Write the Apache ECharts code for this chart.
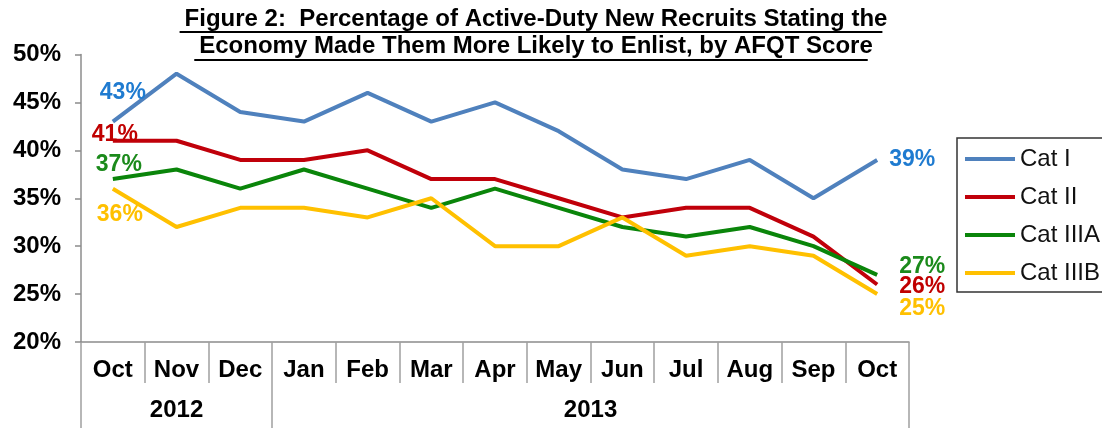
<!DOCTYPE html>
<html>
<head>
<meta charset="utf-8">
<script src="https://cdn.jsdelivr.net/npm/echarts@6/dist/echarts.min.js"></script>
<style>
    html, body { margin: 0; padding: 0; background: #fff; }
    #chart { width: 1102px; height: 428px; }
</style>
</head>
<body>
<div id="chart"></div>
<script>
    // 数据
    const months = ['Oct', 'Nov', 'Dec', 'Jan', 'Feb', 'Mar', 'Apr', 'May', 'Jun', 'Jul', 'Aug', 'Sep', 'Oct'];
    const years = ['2012', '2013'];
    const yearSpans = [3, 10]; // 每年包含的月份数
    const catI = [43, 48, 44, 43, 46, 43, 45, 42, 38, 37, 39, 35, 39];
    const catII = [41, 41, 39, 39, 40, 37, 37, 35, 33, 34, 34, 31, 26];
    const catIIIA = [37, 38, 36, 38, 36, 34, 36, 34, 32, 31, 32, 30, 27];
    const catIIIB = [36, 32, 34, 34, 33, 35, 30, 30, 33, 29, 30, 29, 25];
    const yTicks = [20, 25, 30, 35, 40, 45, 50];

    const FONT = 'Liberation Sans, Arial, sans-serif';
    const titleLines = [
        'Figure 2:  Percentage of Active-Duty New Recruits Stating the',
        'Economy Made Them More Likely to Enlist, by AFQT Score',
    ];

    // 年份分隔线和标签位置
    const yearEdges = [0];
    const yearMids = [];
    yearSpans.forEach((n) => {
        const start = yearEdges[yearEdges.length - 1];
        yearMids.push(start + n / 2);
        yearEdges.push(start + n);
    });

    // 首尾数据点加标签
    const withLabels = (arr, color, first, last) =>
        arr.map((v, i) => {
            if (i === 0) return { value: v, label: Object.assign({ show: true, color: color }, first) };
            if (i === arr.length - 1) return { value: v, label: Object.assign({ show: true, color: color }, last) };
            return v;
        });

    const labelFont = { show: false, fontSize: 23, fontWeight: 'bold', fontFamily: FONT, formatter: '{c}%' };

    const seriesDefs = [
        {
            name: 'Cat I', data: catI, color: '#4F81BD', labelColor: '#1F7BD0',
            first: { position: 'top', offset: [10, -12] },
            last: { position: 'right', distance: 12 },
        },
        {
            name: 'Cat II', data: catII, color: '#C0000A', labelColor: '#C00000',
            first: { position: 'top', offset: [2, 10] },
            last: { position: 'right', distance: 22, offset: [0, 2] },
        },
        {
            name: 'Cat IIIA', data: catIIIA, color: '#0A850A', labelColor: '#1B8A1B',
            first: { position: 'top', offset: [6, 2] },
            last: { position: 'right', distance: 22, offset: [0, -8] },
        },
        {
            name: 'Cat IIIB', data: catIIIB, color: '#FFC000', labelColor: '#FFC000',
            first: { position: 'bottom', offset: [7, 9] },
            last: { position: 'right', distance: 22, offset: [0, 15] },
        },
    ];

    // 标题下划线宽度
    const TITLE_SIZE = 24;
    const ctx = document.createElement('canvas').getContext('2d');
    ctx.font = 'bold ' + TITLE_SIZE + 'px ' + FONT;
    const titleCenter = 531;
    const underlines = titleLines.map((t, i) => {
        const w = ctx.measureText(t).width;
        return {
            type: 'line',
            shape: { x1: titleCenter - w / 2, y1: 32 + i * 28, x2: titleCenter + w / 2, y2: 32 + i * 28 },
            style: { stroke: '#000', lineWidth: 2 },
            silent: true,
        };
    });

    const chart = echarts.init(document.getElementById('chart'));
    const option = {
        animation: false,
        title: {
            text: titleLines.join('\n'),
            left: titleCenter,
            textAlign: 'center',
            top: 1,
            textStyle: { fontSize: TITLE_SIZE, fontWeight: 'bold', fontFamily: FONT, color: '#000', lineHeight: 27 },
        },
        graphic: underlines,
        legend: {
            orient: 'vertical',
            left: 957,
            top: 138,
            padding: [9, 60, 7, 8],
            itemGap: 14,
            itemWidth: 50,
            itemHeight: 4,
            icon: 'rect',
            borderColor: '#333',
            borderWidth: 1.5,
            textStyle: { fontSize: 24, fontFamily: FONT, color: '#111' },
            data: seriesDefs.map((s) => s.name),
        },
        grid: { left: 81, right: 193, top: 54.5, bottom: 86 },
        xAxis: [
            {
                type: 'category',
                data: months,
                boundaryGap: true,
                axisLine: { lineStyle: { color: '#8c8c8c', width: 1.5 } },
                axisTick: { show: true, interval: 0, length: 41, lineStyle: { color: '#a0a0a0', width: 1.5 } },
                axisLabel: { interval: 0, margin: 16, fontSize: 24, fontWeight: 'bold', fontFamily: FONT, color: '#000' },
            },
            {
                type: 'value',
                min: 0,
                max: months.length,
                position: 'bottom',
                axisLine: { show: false },
                splitLine: { show: false },
                axisTick: { show: true, length: 90, customValues: yearEdges, lineStyle: { color: '#a0a0a0', width: 1.5 } },
                axisLabel: {
                    margin: 56,
                    customValues: yearMids,
                    formatter: (v) => years[yearMids.indexOf(v)] || '',
                    fontSize: 24, fontWeight: 'bold', fontFamily: FONT, color: '#000',
                },
            },
        ],
        yAxis: {
            type: 'value',
            min: yTicks[0],
            max: yTicks[yTicks.length - 1],
            interval: 5,
            axisLine: { show: true, lineStyle: { color: '#8c8c8c', width: 1.5 } },
            axisTick: { show: true, length: 6, lineStyle: { color: '#8c8c8c', width: 1.5 } },
            splitLine: { show: false },
            axisLabel: { margin: 20, formatter: '{value}%', fontSize: 24, fontWeight: 'bold', fontFamily: FONT, color: '#000' },
        },
        series: seriesDefs.map((s) => ({
            name: s.name,
            type: 'line',
            xAxisIndex: 0,
            symbol: 'circle',
            symbolSize: 0,
            showSymbol: true,
            color: s.color,
            itemStyle: { color: s.color },
            lineStyle: { width: 4, color: s.color },
            label: labelFont,
            data: withLabels(s.data, s.labelColor, s.first, s.last),
        })),
    };
    chart.setOption(option);
</script>
</body>
</html>
